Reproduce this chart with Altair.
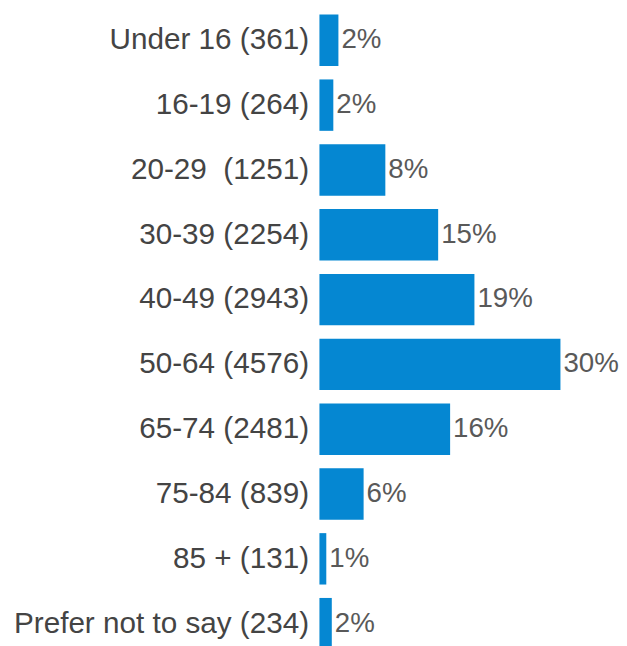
import altair as alt
import pandas as pd

categories = ["Under 16 (361)", "16-19 (264)", "20-29\u00a0 (1251)", "30-39 (2254)", "40-49 (2943)",
              "50-64 (4576)", "65-74 (2481)", "75-84 (839)", "85 + (131)", "Prefer not to say (234)"]
values = [2.35, 1.72, 8.16, 14.70, 19.19, 29.84, 16.18, 5.47, 0.85, 1.53]
labels = ["2%", "2%", "8%", "15%", "19%", "30%", "16%", "6%", "1%", "2%"]

df = pd.DataFrame({"cat": categories, "val": values, "lab": labels})

y = alt.Y("cat:N", sort=categories, title=None,
          scale=alt.Scale(paddingInner=0.207, paddingOuter=0, range=[3, 645]),
          axis=alt.Axis(domain=False, ticks=False, labelFontSize=30, labelColor="#444444",
                        labelFont="Liberation Sans", labelPadding=11, labelLimit=400,
                        minExtent=315, maxExtent=315))
x = alt.X("val:Q", title=None, scale=alt.Scale(domain=[0, 36.6], nice=False),
          axis=None)

bars = alt.Chart(df).mark_bar(color="#0587D2").encode(x=x, y=y)
text = alt.Chart(df).mark_text(align="left", baseline="middle", dx=3, fontSize=28,
                               font="Liberation Sans", color="#595959").encode(
    x=x, y=y, text="lab:N")

chart = (bars + text).properties(width=299, height=630, padding=0).configure_view(stroke=None)
chart.save("out.html", embed_options={"renderer": "svg", "actions": False})
